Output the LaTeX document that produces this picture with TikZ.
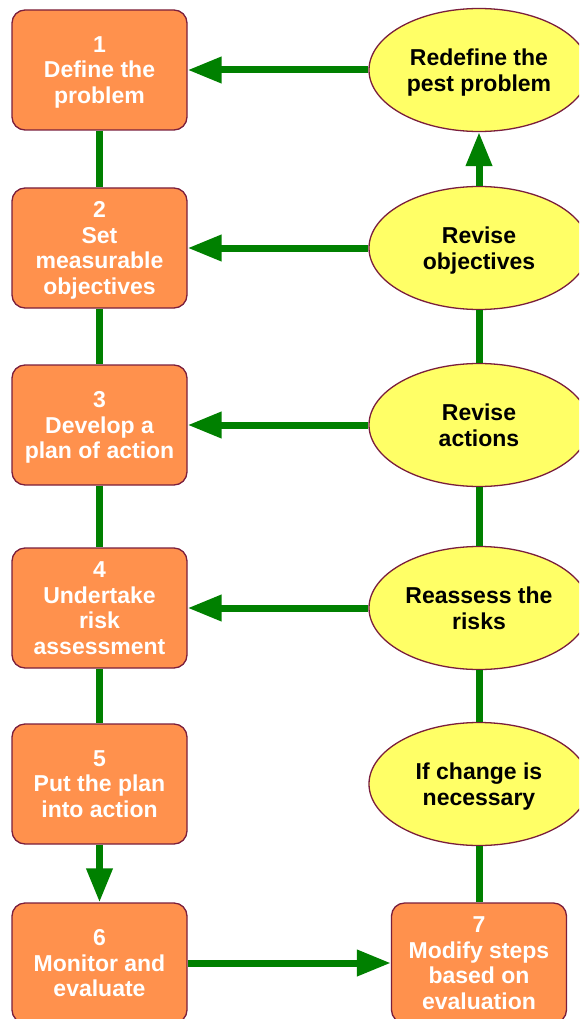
\documentclass[tikz,border=0pt]{standalone}
\usepackage{fontspec}
\setmainfont{Liberation Sans}
\usetikzlibrary{arrows.meta,shapes.geometric}
\definecolor{boxorange}{RGB}{255,145,77}
\definecolor{edgered}{RGB}{122,30,60}
\definecolor{ellyellow}{RGB}{255,255,102}
\definecolor{linkgreen}{RGB}{0,128,0}
\begin{document}
\begin{tikzpicture}[x=1pt,y=-1pt,
  stepbox/.style={draw=edgered, line width=1.3pt, fill=boxorange, rounded corners=13pt,
    minimum width=175pt, minimum height=120pt, text=white, text depth=-3pt,
    font=\fontsize{23}{25.5}\selectfont\bfseries, align=center, inner sep=0pt},
  oval/.style={ellipse, draw=edgered, line width=1.3pt, fill=ellyellow,
    minimum width=220pt, minimum height=123pt, text=black, text depth=0pt,
    font=\fontsize{23}{25.7}\selectfont\bfseries, align=center, inner sep=0pt},
  link/.style={draw=linkgreen, line width=7pt},
  arr/.style={link, -{Triangle[length=34pt,width=25pt]}}]
\useasboundingbox (0,0) rectangle (579,1019);
\clip (0,0) rectangle (579,1019);
% left column
\node[stepbox] (b1) at (99.5,70) {1\\Define the\\problem};
\node[stepbox] (b2) at (99.5,248) {2\\Set\\measurable\\objectives};
\node[stepbox] (b3) at (99.5,425) {3\\Develop a\\plan of action};
\node[stepbox] (b4) at (99.5,608) {4\\Undertake\\risk\\assessment};
\node[stepbox] (b5) at (99.5,784) {5\\Put the plan\\into action};
\node[stepbox] (b6) at (99.5,963) {6\\Monitor and\\evaluate};
% right column
\node[oval] (e1) at (479,70) {Redefine the\\pest problem};
\node[oval] (e2) at (479,248) {Revise\\objectives};
\node[oval] (e3) at (479,425) {Revise\\actions};
\node[oval] (e4) at (479,608) {Reassess the\\risks};
\node[oval] (e5) at (479,784) {If change is\\necessary};
\node[stepbox] (b7) at (479,963) {7\\Modify steps\\based on\\evaluation};
% connectors
\draw[link] (b1) -- (b2);
\draw[link] (b2) -- (b3);
\draw[link] (b3) -- (b4);
\draw[link] (b4) -- (b5);
\draw[arr] (b5) -- (b6);
\draw[arr] (b6) -- (b7);
\draw[link] (b7) -- (e5);
\draw[link] (e5) -- (e4);
\draw[link] (e4) -- (e3);
\draw[link] (e3) -- (e2);
\draw[arr] (e2) -- (e1);
\draw[arr] (e1) -- (b1);
\draw[arr] (e2) -- (b2);
\draw[arr] (e3) -- (b3);
\draw[arr] (e4) -- (b4);
\end{tikzpicture}
\end{document}
